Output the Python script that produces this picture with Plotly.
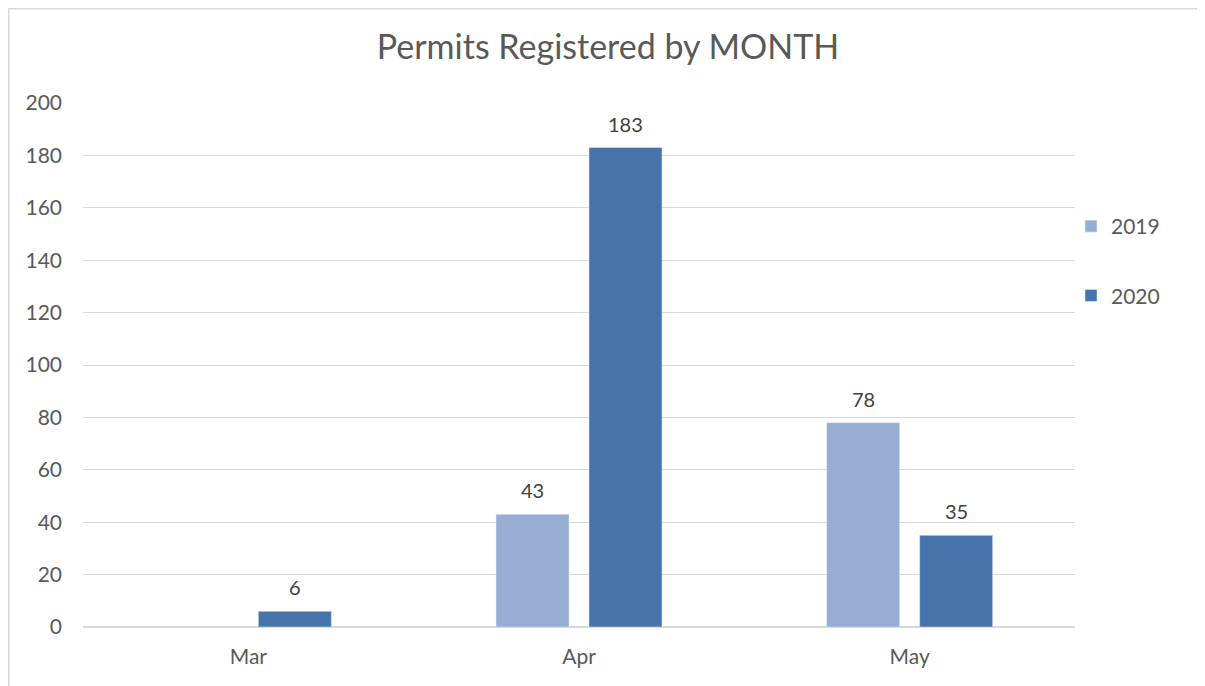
import plotly.graph_objects as go

months = ["Mar", "Apr", "May"]
series_2019 = [None, 43, 78]
series_2020 = [6, 183, 35]
y_ticks = [0, 20, 40, 60, 80, 100, 120, 140, 160, 180, 200]

# page is drawn at an 8px body offset
W, H = 1197, 678
L, R, T, B = 75, 130, 95, 59
pw, ph = W - L - R, H - T - B
font_family = "Lato, Carlito, 'Open Sans', sans-serif"
label_color = "#404040"

fig = go.Figure()
fig.add_trace(go.Bar(name="2019", x=months, y=series_2019, marker_color="#97ADD3",
                     legendgroup="a"))
fig.add_trace(go.Bar(name="2020", x=months, y=series_2020, marker_color="#4674AA",
                     legendgroup="b"))

# value labels above bars
slot_px = 46.5
for vals, sh in ((series_2019, -slot_px), (series_2020, slot_px)):
    for m, v in zip(months, vals):
        if v is None:
            continue
        fig.add_annotation(x=m, y=v, text=str(v), showarrow=False, xshift=sh,
                           yshift=24, yanchor="middle",
                           font=dict(size=20, color=label_color, family=font_family))

fig.add_shape(type="rect", xref="paper", yref="paper",
              x0=(0.75 - L) / pw, x1=(1300 - L) / pw,
              y0=(ph - 800) / ph, y1=(H - B - 0.75) / ph,
              line=dict(color="#D9D9D9", width=1.5), fillcolor="rgba(0,0,0,0)",
              layer="below")

fig.update_layout(
    width=W, height=H,
    margin=dict(l=L, r=R, t=T, b=B, autoexpand=False),
    paper_bgcolor="white", plot_bgcolor="white",
    font=dict(family=font_family, color="#595959", size=21),
    title=dict(text="Permits Registered by MONTH", x=(608 - 8) / W, xanchor="center",
               y=1 - 39 / H, yanchor="middle",
               font=dict(size=34, color="#595959", family=font_family)),
    barmode="group", bargap=0.4375, bargroupgap=0.215,
    showlegend=True,
    legend=dict(x=(1063 - L) / pw, y=(H - B - 198) / ph, xanchor="left", yanchor="top",
                tracegroupgap=39, font=dict(size=21, color="#595959"),
                itemwidth=30, bgcolor="rgba(0,0,0,0)"),
    xaxis=dict(showgrid=False, showline=False, ticks="", tickfont=dict(size=21),
               range=[-0.5, 2.5], ticklabelstandoff=15),
    yaxis=dict(range=[0, 200], tickvals=y_ticks, showgrid=True, gridcolor="#D9D9D9",
               gridwidth=1, zeroline=True, zerolinecolor="#D9D9D9", zerolinewidth=1.5,
               ticks="", tickfont=dict(size=21), ticklabelstandoff=20),
)

fig.write_html("out.html")
